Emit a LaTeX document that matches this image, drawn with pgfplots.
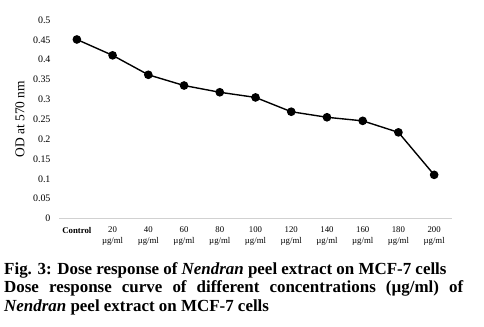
\documentclass[border=0pt]{standalone}
\usepackage{fontspec}
\setmainfont{Liberation Serif}
\usepackage{pgfplots}
\pgfplotsset{compat=1.18}
\begin{document}
\begin{tikzpicture}[x=1bp,y=1bp]
\useasboundingbox (0,0) rectangle (484,-326);
\begin{axis}[
  at={(59bp,-218.5bp)}, anchor=south west,
  scale only axis,
  width=393bp, height=198.5bp,
  xmin=-0.5, xmax=10.5,
  ymin=0, ymax=0.5,
  axis x line*=bottom,
  axis y line*=left,
  x axis line style={draw=black!18, line width=0.8pt, -},
  y axis line style={draw=none},
  major tick length=0pt,
  xtick={0,...,10},
  xticklabels={{\textbf{Control}},{20\\µg/ml},{40\\µg/ml},{60\\µg/ml},{80\\µg/ml},{100\\µg/ml},{120\\µg/ml},{140\\µg/ml},{160\\µg/ml},{180\\µg/ml},{200\\µg/ml}},
  xticklabel style={align=center, font=\fontsize{8.8}{10.5}\selectfont, anchor=north, yshift=-5bp},
  ytick={0,0.05,0.1,0.15,0.2,0.25,0.3,0.35,0.4,0.45,0.5},
  yticklabel style={/pgf/number format/fixed, /pgf/number format/assume math mode=true, font=\fontsize{10}{12}\selectfont, xshift=-5bp},
  ylabel={OD at 570 nm},
  ylabel style={at={(axis description cs:-0.099,0.5)}, anchor=center, font=\fontsize{13.5}{15}\selectfont},
  clip=false,
]
\addplot[black, line width=1.4pt, mark=*, mark size=3.6bp, mark options={fill=black}] coordinates {
  (0,0.451) (1,0.411) (2,0.362) (3,0.335) (4,0.318) (5,0.305)
  (6,0.269) (7,0.255) (8,0.246) (9,0.217) (10,0.110)
};
\end{axis}
\node[anchor=north west, inner sep=0pt, text width=459bp, align=justify,
      font=\bfseries\fontsize{17}{18.7}\selectfont] at (4,-262) {%
\parindent=0pt \tolerance=10000 Fig. 3: Dose response of \mbox{\textit{Nendran}} peel extract on MCF-7 cells\par
Dose response curve of different concentrations (µg/ml) of \mbox{\textit{Nendran}} peel extract on MCF-7 cells};
\end{tikzpicture}
\end{document}
